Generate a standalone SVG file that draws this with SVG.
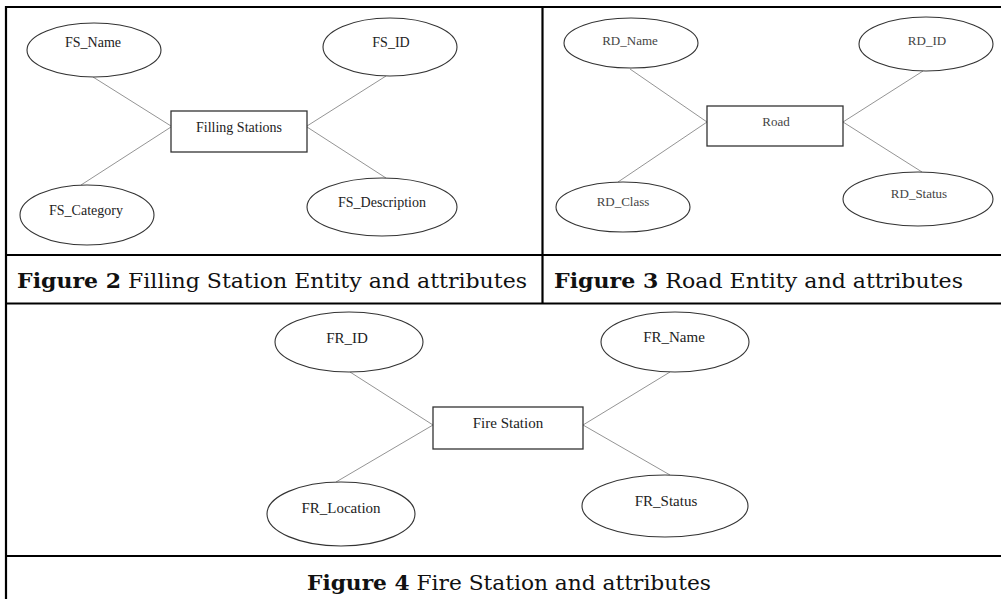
<svg xmlns="http://www.w3.org/2000/svg" width="1001" height="599" viewBox="0 0 1001 599">
<style>
.frame{stroke:#000;stroke-width:2.2;fill:none}
.ell{fill:#fff;stroke:#333;stroke-width:1.1}
.box{fill:#fff;stroke:#333;stroke-width:1.3}
.conn{stroke:#888;stroke-width:0.9;fill:none}
.lbl{font-family:"Liberation Serif","Times New Roman",serif;text-anchor:middle;fill:#222}
.f2{font-size:14px}
.f3{font-size:13px;fill:#444}
.f4{font-size:15px;fill:#222}
.cap{font-family:"DejaVu Serif","Liberation Serif",serif;font-size:21px;fill:#111}
.capb{font-weight:bold}
</style>
<rect width="1001" height="599" fill="#fff"/>
<g id="table">
<line class="frame" x1="6" y1="7" x2="1001" y2="7"/>
<line class="frame" x1="6" y1="6" x2="6" y2="599"/>
<line class="frame" x1="542.5" y1="7" x2="542.5" y2="303.5"/>
<line class="frame" x1="6" y1="255" x2="1001" y2="255"/>
<line class="frame" x1="6" y1="303.5" x2="1001" y2="303.5"/>
<line class="frame" x1="6" y1="556" x2="1001" y2="556"/>
</g>
<g id="connectors">
<line class="conn" x1="93" y1="77" x2="171" y2="126"/>
<line class="conn" x1="386" y1="76" x2="307" y2="126"/>
<line class="conn" x1="81" y1="185" x2="171" y2="127"/>
<line class="conn" x1="386" y1="178" x2="307" y2="127"/>
<line class="conn" x1="630" y1="69" x2="707" y2="122"/>
<line class="conn" x1="923" y1="71" x2="843" y2="122"/>
<line class="conn" x1="618" y1="182" x2="707" y2="122"/>
<line class="conn" x1="922" y1="172" x2="843" y2="122"/>
<line class="conn" x1="350" y1="372" x2="433" y2="425"/>
<line class="conn" x1="336" y1="482" x2="433" y2="425"/>
<line class="conn" x1="670" y1="372" x2="583" y2="425"/>
<line class="conn" x1="670" y1="475" x2="583" y2="425"/>
</g>
<g id="fs_entity"><rect class="box" x="171" y="111" width="136" height="41"/><text class="lbl f2" x="239" y="132">Filling Stations</text></g>
<g id="fs_name"><ellipse class="ell" cx="94" cy="50" rx="67" ry="27"/><text class="lbl f2" x="93" y="47">FS_Name</text></g>
<g id="fs_id"><ellipse class="ell" cx="390" cy="47" rx="67" ry="29"/><text class="lbl f2" x="391" y="47">FS_ID</text></g>
<g id="fs_category"><ellipse class="ell" cx="87" cy="215" rx="67" ry="30"/><text class="lbl f2" x="86" y="215">FS_Category</text></g>
<g id="fs_description"><ellipse class="ell" cx="382" cy="207" rx="75" ry="29"/><text class="lbl f2" x="382" y="207">FS_Description</text></g>
<g id="rd_entity"><rect class="box" x="707" y="106" width="136" height="40"/><text class="lbl f3" x="776" y="126">Road</text></g>
<g id="rd_name"><ellipse class="ell" cx="631" cy="43" rx="67" ry="25"/><text class="lbl f3" x="630" y="45">RD_Name</text></g>
<g id="rd_id"><ellipse class="ell" cx="926" cy="44" rx="67" ry="27"/><text class="lbl f3" x="927" y="45">RD_ID</text></g>
<g id="rd_class"><ellipse class="ell" cx="623" cy="207" rx="67" ry="25"/><text class="lbl f3" x="623" y="206">RD_Class</text></g>
<g id="rd_status"><ellipse class="ell" cx="918" cy="199" rx="75" ry="27"/><text class="lbl f3" x="919" y="198">RD_Status</text></g>
<g id="fr_entity"><rect class="box" x="433" y="407" width="150" height="42"/><text class="lbl f4" x="508" y="428">Fire Station</text></g>
<g id="fr_id"><ellipse class="ell" cx="349" cy="342" rx="74" ry="30"/><text class="lbl f4" x="347" y="343">FR_ID</text></g>
<g id="fr_location"><ellipse class="ell" cx="341" cy="514" rx="74" ry="32"/><text class="lbl f4" x="341" y="513">FR_Location</text></g>
<g id="fr_name"><ellipse class="ell" cx="675" cy="342" rx="74" ry="30"/><text class="lbl f4" x="674" y="342">FR_Name</text></g>
<g id="fr_status"><ellipse class="ell" cx="665" cy="506" rx="83" ry="31"/><text class="lbl f4" x="666" y="506">FR_Status</text></g>
<g id="captions">
<text class="cap" x="17" y="288" textLength="510" lengthAdjust="spacingAndGlyphs"><tspan class="capb">Figure 2</tspan> Filling Station Entity and attributes</text>
<text class="cap" x="554" y="288" textLength="409" lengthAdjust="spacingAndGlyphs"><tspan class="capb">Figure 3</tspan> Road Entity and attributes</text>
<text class="cap" x="307" y="590" textLength="404" lengthAdjust="spacingAndGlyphs"><tspan class="capb">Figure 4</tspan> Fire Station and attributes</text>
</g>
</svg>
